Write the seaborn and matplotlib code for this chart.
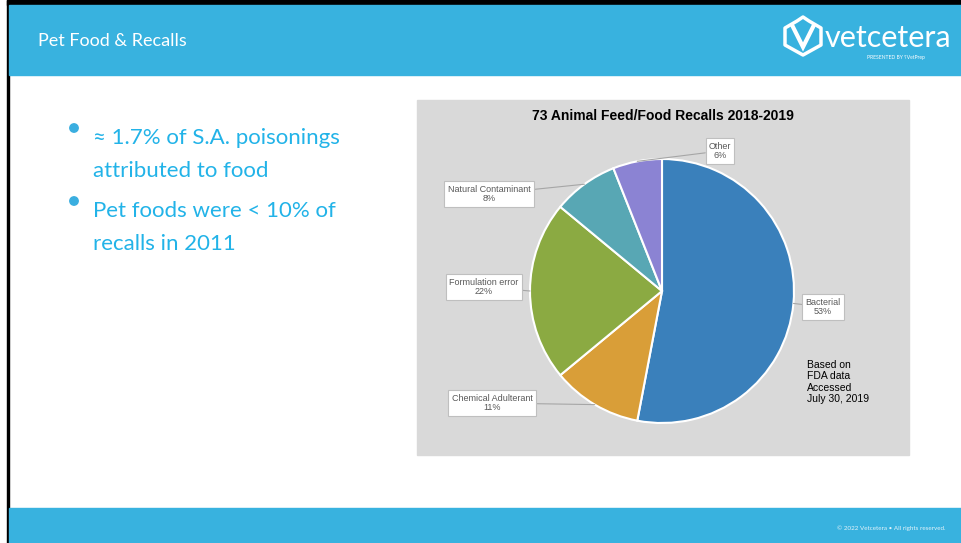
import numpy as np
import seaborn as sns
import matplotlib.pyplot as plt
from matplotlib.patches import Rectangle, Circle, Polygon

#%% Data
categories = ["Bacterial", "Chemical Adulterant", "Formulation error",
              "Natural Contaminant", "Other"]
share_pct = [53, 11, 22, 8, 6]
slice_colors = ["#3A80BB", "#D99E38", "#8BAA42", "#58A7B4", "#8B83D3"]
chart_title = "73 Animal Feed/Food Recalls 2018-2019"
note_lines = ["Based on", "FDA data", "Accessed", "July 30, 2019"]
bullets = [["\u2248 1.7% of S.A. poisonings", "attributed to food"],
           ["Pet foods were < 10% of", "recalls in 2011"]]

#%% Style
sns.set_theme(style="white")
plt.rcParams['font.family'] = ['Liberation Sans', 'DejaVu Sans']
palette = sns.color_palette(slice_colors)

W, H = 962, 543
blue = "#38B2DF"
fig = plt.figure(figsize=(W / 100, H / 100), dpi=100)

# slide background in pixel coords
bg = fig.add_axes([0, 0, 1, 1])
bg.set_xlim(0, W)
bg.set_ylim(H, 0)
bg.axis('off')
bg.add_patch(Rectangle((7, 0), W - 7, 5, color="black"))
bg.add_patch(Rectangle((7, 0), 2.5, H, color="black"))
bg.add_patch(Rectangle((9, 5), W - 9, 70, color=blue))
bg.add_patch(Rectangle((9, 508), W - 9, 35, color=blue))
bg.add_patch(Rectangle((417, 100), 492, 355, color="#D9D9D9"))

bg.text(38, 41, "Pet Food & Recalls", color="white", fontsize=13,
        family=['Lato', 'DejaVu Sans'], va='center', ha='left')

# logo
hexagon = [(797, 21), (803, 17), (809, 21), (821, 28), (821, 45), (803, 55),
           (785, 45), (785, 28)]
bg.add_patch(Polygon(hexagon, closed=True, fill=False, ec="white", lw=2.5,
                     joinstyle='round'))
bg.plot([792, 803, 814], [25, 47, 25], color="white", lw=3, solid_joinstyle='miter')
bg.text(825, 38, "vetcetera", color="white", fontsize=22,
        family=['Lato', 'DejaVu Sans'], va='center', ha='left')
bg.text(925, 58, "PRESENTED BY \u2E2EVetPrep", color="white", fontsize=3.6,
        family=['Lato', 'DejaVu Sans'], va='center', ha='right')

bg.text(946, 528, "\u00a9 2022 Vetcetera \u2022 All rights reserved.",
        color="#E3F3FA", fontsize=4.5, family=['Lato', 'DejaVu Sans'],
        va='center', ha='right')

# bullets
text_blue = "#22B3E8"
for i, lines in enumerate(bullets):
    y0 = 138 + i * 73
    bg.add_patch(Circle((74, y0 - 10), 4.2, color="#3AAEE0"))
    for j, line in enumerate(lines):
        bg.text(93, y0 + j * 33, line, color=text_blue, fontsize=16,
                family=['Lato', 'DejaVu Sans'], va='center', ha='left')

#%% Pie chart (1 data unit = 1 pixel, y up)
ax = fig.add_axes([417 / W, 88 / H, 492 / W, 355 / H])
cx, cy, r = 662, H - 291, 132
ax.pie(share_pct, colors=palette, startangle=90, counterclock=False,
       radius=r, center=(cx, cy),
       wedgeprops=dict(edgecolor="white", linewidth=1.5))
ax.set_aspect('auto')
ax.set_xlim(417, 909)
ax.set_ylim(88, 443)
ax.axis('off')

ax.text(663, H - 116, chart_title, fontsize=10, fontweight='bold',
        ha='center', va='center', color="black")

label_pos = [(823, 307), (492, 403), (484, 287), (489, 194), (720, 151)]
cum = 0
for cat, v, (lx, ly) in zip(categories, share_pct, label_pos):
    mid = np.deg2rad(90 - (cum + v / 2) / 100 * 360)
    cum += v
    ax.annotate(f"{cat}\n{v}%", xy=(cx + r * np.cos(mid), cy + r * np.sin(mid)),
                xytext=(lx, H - ly), ha='center', va='center',
                fontsize=6.5, color="#595959", linespacing=1.1,
                bbox=dict(boxstyle="square,pad=0.35", fc="white",
                          ec="#BFBFBF", lw=0.8),
                arrowprops=dict(arrowstyle='-', color="#A6A6A6", lw=0.8,
                                shrinkA=0, shrinkB=0))

ax.text(807, H - 382, "\n".join(note_lines), fontsize=7.5, color="black",
        ha='left', va='center', linespacing=1.2)

plt.savefig("out.png", dpi=100)
